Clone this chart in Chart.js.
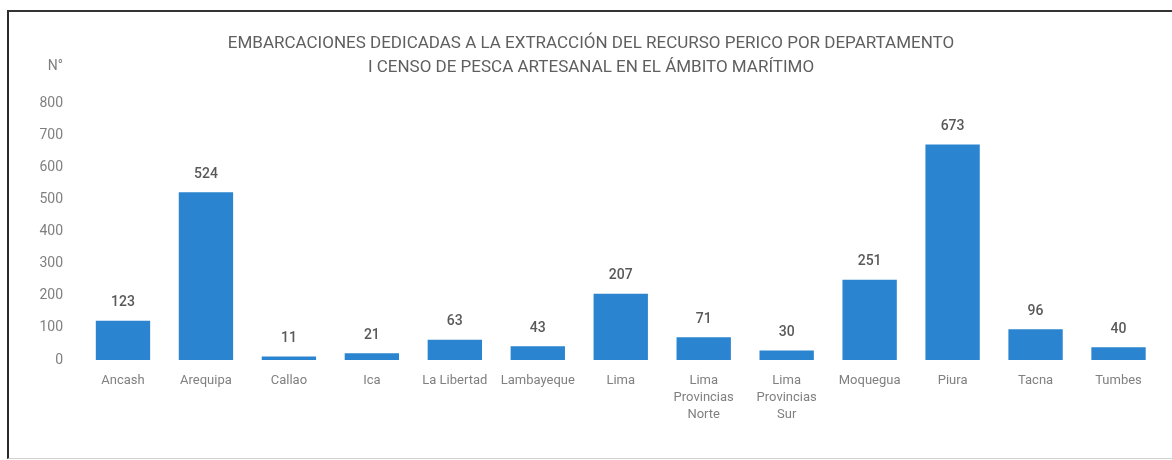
<!DOCTYPE html>
<html>
<head>
<meta charset="utf-8">
<script src="https://cdn.jsdelivr.net/npm/chart.js@4/dist/chart.umd.min.js"></script>
<style>
  html, body { margin: 0; padding: 0; background: #fff; overflow: hidden; }
  #wrap { position: relative; width: 1172px; height: 460px; overflow: hidden; }
  #frame {
    position: absolute; left: 7px; top: 10px; width: 1200px; height: 446px;
    border-left: 2px solid #2a2a2a; border-top: 2px solid #333;
    border-bottom: 1px solid #d0d0d0; pointer-events: none;
  }
</style>
</head>
<body>
<div id="wrap">
  <canvas id="chart" width="1172" height="460"></canvas>
  <div id="frame"></div>
</div>
<script>
// departamentos
const categories = [
  "Ancash", "Arequipa", "Callao", "Ica", "La Libertad", "Lambayeque", "Lima",
  ["Lima", "Provincias", "Norte"], ["Lima", "Provincias", "Sur"],
  "Moquegua", "Piura", "Tacna", "Tumbes"
];
const embarcaciones = [123, 524, 11, 21, 63, 43, 207, 71, 30, 251, 673, 96, 40];
const yTicks = [0, 100, 200, 300, 400, 500, 600, 700, 800];
const titleLines = [
  "EMBARCACIONES DEDICADAS A LA EXTRACCIÓN DEL RECURSO PERICO POR DEPARTAMENTO",
  "I CENSO DE PESCA ARTESANAL EN EL ÁMBITO MARÍTIMO"
];
const yLabel = "N°";

const font = "Roboto, 'Liberation Sans', sans-serif";

// valores encima de las barras + "N°" arriba del eje
const labelsPlugin = {
  id: "valueLabels",
  afterDatasetsDraw(chart) {
    const ctx = chart.ctx;
    const meta = chart.getDatasetMeta(0);
    ctx.save();
    ctx.font = "500 14px " + font;
    ctx.fillStyle = "#595959";
    ctx.textAlign = "center";
    ctx.textBaseline = "middle";
    meta.data.forEach((bar, i) => {
      ctx.fillText(String(embarcaciones[i]), bar.x, bar.y - 18);
    });
    const y = chart.scales.y;
    ctx.font = "14px " + font;
    ctx.fillStyle = "#7f7f7f";
    ctx.textAlign = "right";
    ctx.fillText(yLabel, y.right - 18.5, chart.chartArea.top - 37);
    ctx.restore();
  }
};

new Chart(document.getElementById("chart"), {
  type: "bar",
  data: {
    labels: categories,
    datasets: [{
      data: embarcaciones,
      backgroundColor: "#2a84cf",
      borderWidth: 0,
      categoryPercentage: 1,
      barPercentage: 0.655
    }]
  },
  options: {
    responsive: false,
    animation: false,
    layout: { padding: { left: 22, right: 12, top: 0, bottom: 0 } },
    plugins: {
      legend: { display: false },
      tooltip: { enabled: false },
      title: {
        display: true,
        text: titleLines,
        color: "#5f5f5f",
        font: { family: font, size: 17, weight: "normal", lineHeight: 1.41 },
        padding: { top: 32, bottom: 24 }
      }
    },
    scales: {
      x: {
        grid: { display: false, drawTicks: false },
        border: { display: false },
        ticks: {
          color: "#808080",
          font: { family: font, size: 13, lineHeight: 1.31 },
          padding: 12,
          maxRotation: 0,
          autoSkip: false
        },
        afterFit(scale) { scale.height = 100; }
      },
      y: {
        min: 0,
        max: 800,
        afterBuildTicks(scale) { scale.ticks = yTicks.map(v => ({ value: v })); },
        grid: { display: false, drawTicks: false },
        border: { display: false },
        ticks: {
          color: "#7f7f7f",
          font: { family: font, size: 14 },
          padding: 18.5
        },
        afterFit(scale) { scale.width = 59.5; }
      }
    }
  },
  plugins: [labelsPlugin]
});
</script>
</body>
</html>
